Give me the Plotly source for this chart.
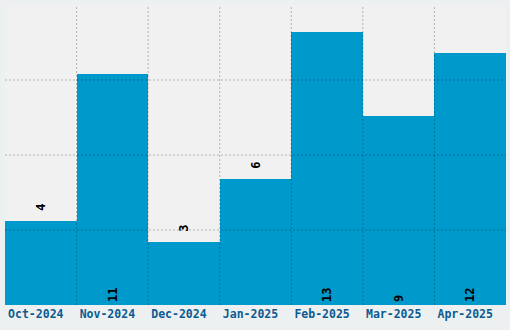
import plotly.graph_objects as go

months = ["Oct-2024", "Nov-2024", "Dec-2024", "Jan-2025", "Feb-2025", "Mar-2025", "Apr-2025"]
counts = [4, 11, 3, 6, 13, 9, 12]
label_pos = ["outside", "inside", "outside", "outside", "inside", "inside", "inside"]
y_max = 14.3
grid_vals = [y_max * k / 4 for k in (1, 2, 3)]

labels = [(" " if p == "outside" else "") + str(v) for v, p in zip(counts, label_pos)]

fig = go.Figure(go.Bar(
    x=months, y=counts,
    text=labels,
    textposition=label_pos,
    insidetextanchor="start",
    textangle=-90,
    constraintext="none",
    cliponaxis=False,
    textfont=dict(family="DejaVu Sans Mono", size=12, color="#000000", weight="bold"),
    marker=dict(color="#0099cc", line=dict(width=0)),
    hoverinfo="skip",
))

grid_line = dict(color="rgba(0,0,0,0.25)", width=1, dash="2px,2px")
shapes = []
for i in range(1, len(months)):
    shapes.append(dict(type="line", xref="x", yref="paper", x0=i - 0.5, x1=i - 0.5,
                       y0=0, y1=1, line=grid_line, layer="above"))
for g in grid_vals:
    shapes.append(dict(type="line", xref="paper", yref="y", x0=0, x1=1,
                       y0=g, y1=g, line=grid_line, layer="above"))

fig.update_layout(
    width=510, height=330,
    margin=dict(l=5, r=4, t=5, b=25),
    paper_bgcolor="#edf0f1",
    plot_bgcolor="#f1f1f1",
    bargap=0,
    showlegend=False,
    font=dict(family="DejaVu Sans Mono"),
    shapes=shapes,
)
fig.update_xaxes(
    type="category", showgrid=False, ticks="",
    ticklabelshift=-5,
    tickfont=dict(family="DejaVu Sans Mono", size=11.5, color="#0b5b91", weight="bold"),
    showline=False, zeroline=False,
)
fig.update_yaxes(
    range=[0, y_max], showticklabels=False, showgrid=False,
    ticks="", zeroline=False, showline=False,
)

fig.write_html("out.html")
